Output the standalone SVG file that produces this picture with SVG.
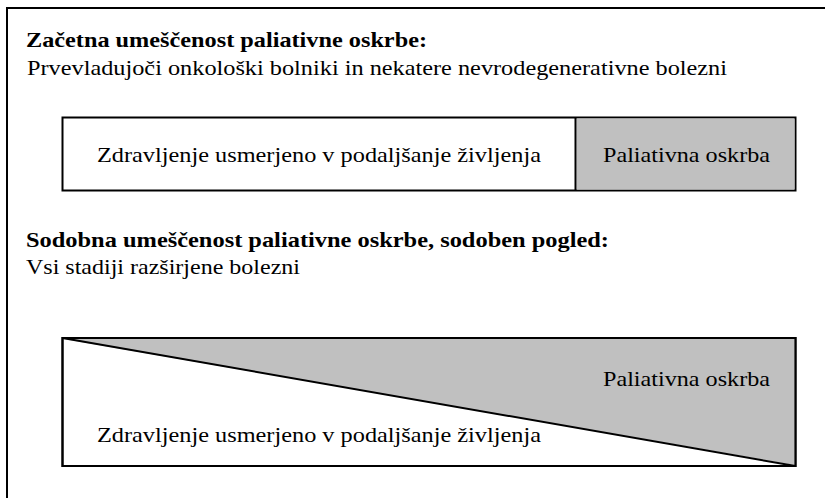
<svg xmlns="http://www.w3.org/2000/svg" width="825" height="498" viewBox="0 0 825 498">
<style>
.t{font-family:"Liberation Serif","Times New Roman",serif;fill:#000;font-size:21px}
.b{font-weight:bold}
.m{font-size:22px}
.box{stroke:#000;stroke-width:2;fill:#fff}
.grey{fill:#c0c0c0}
</style>
<rect width="825" height="498" fill="#fff"/>
<g id="frame">
<path d="M7 498 V8 H825" fill="none" stroke="#000" stroke-width="2"/>
</g>
<g id="header1">
<text class="t b" x="26" y="47" textLength="401" lengthAdjust="spacingAndGlyphs">Začetna umeščenost paliativne oskrbe:</text>
<text class="t" x="27" y="75" textLength="700" lengthAdjust="spacingAndGlyphs">Prvevladujoči onkološki bolniki in nekatere nevrodegenerativne bolezni</text>
</g>
<g id="bar1">
<rect class="box" x="62.5" y="117.5" width="733" height="73"/>
<rect class="grey" x="576.5" y="118.5" width="218" height="71"/>
<line x1="575.5" y1="117.5" x2="575.5" y2="190.5" stroke="#000" stroke-width="2"/>
<text class="t m" x="97" y="162" textLength="444" lengthAdjust="spacingAndGlyphs">Zdravljenje usmerjeno v podaljšanje življenja</text>
<text class="t m" x="603" y="162" textLength="167" lengthAdjust="spacingAndGlyphs">Paliativna oskrba</text>
</g>
<g id="header2">
<text class="t b" x="26" y="247" textLength="583" lengthAdjust="spacingAndGlyphs">Sodobna umeščenost paliativne oskrbe, sodoben pogled:</text>
<text class="t" x="26" y="274" textLength="274" lengthAdjust="spacingAndGlyphs">Vsi stadiji razširjene bolezni</text>
</g>
<g id="bar2">
<rect class="box" x="62.5" y="338" width="733" height="128"/>
<polygon class="grey" points="63.5,339 794.5,339 794.5,465"/>
<line x1="62.5" y1="338" x2="795.5" y2="466" stroke="#000" stroke-width="2"/>
<rect x="62.5" y="338" width="733" height="128" fill="none" stroke="#000" stroke-width="2"/>
<text class="t m" x="603" y="386" textLength="167" lengthAdjust="spacingAndGlyphs">Paliativna oskrba</text>
<text class="t m" x="97" y="442" textLength="444" lengthAdjust="spacingAndGlyphs">Zdravljenje usmerjeno v podaljšanje življenja</text>
</g>
</svg>
